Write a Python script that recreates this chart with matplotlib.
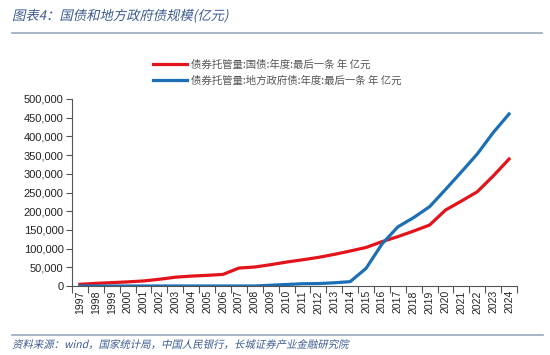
import matplotlib
matplotlib.use("Agg")
import matplotlib.pyplot as plt
from matplotlib.textpath import TextPath
from matplotlib.patches import PathPatch
from matplotlib.font_manager import FontProperties
from matplotlib.transforms import Affine2D
import numpy as np

plt.rcParams['font.family'] = ['Noto Sans CJK SC', 'DejaVu Sans']

## data (亿元)
years = [str(y) for y in range(1997, 2025)]
guozhai = [4500, 7000, 9000, 11000, 13500, 18000, 23500, 26500, 28500, 31000,
           48000, 50800, 57000, 64000, 70000, 76500, 84500, 93500, 103000, 118500,
           132000, 147000, 163000, 203000, 227000, 252000, 294000, 339500]
difang = [0, 0, 0, 0, 0, 0, 0, 0, 0, 0,
          0, 0, 2000, 4000, 6000, 6500, 8600, 11600, 47000, 112000,
          158000, 183000, 212000, 258000, 305000, 353000, 410000, 460000]
yticks = [0, 50000, 100000, 150000, 200000, 250000, 300000, 350000, 400000, 450000, 500000]
label_gz = '债券托管量:国债:年度:最后一条 年 亿元'
label_df = '债券托管量:地方政府债:年度:最后一条 年 亿元'
title = '图表4：国债和地方政府债规模(亿元)'
source = '资料来源：wind，国家统计局，中国人民银行，长城证券产业金融研究院'

W, H = 550, 355
fig = plt.figure(figsize=(W / 100, H / 100), dpi=100)
ax = fig.add_axes([72 / W, 1 - 286 / H, (517 - 72) / W, (286 - 99) / H])

x = np.arange(len(years))
l1, = ax.plot(x, guozhai, color='#e3131b', lw=2.3, label=label_gz)
l2, = ax.plot(x, difang, color='#1c6fb5', lw=2.3, label=label_df)

ax.set_xlim(-0.5, len(years) - 0.5)
ax.set_ylim(0, 500000)
ax.set_yticks(yticks)
ax.set_yticklabels(['{:,}'.format(v) for v in yticks], fontsize=8,
                   family=['Liberation Sans'], color='#222222')
ax.set_xticks(np.arange(len(years) + 1) - 0.5)
ax.set_xticklabels([])
ax.set_xticks(x, minor=True)
ax.set_xticklabels(years, minor=True, rotation=90, fontsize=7.5,
                   family=['Liberation Sans'], color='#222222')
ax.tick_params(axis='x', which='minor', length=0, pad=3)
ax.tick_params(axis='x', which='major', length=5, width=0.8, color='#555555', direction='out')
ax.tick_params(axis='y', length=4, width=0.8, color='#555555', direction='out', pad=2)
for s in ['top', 'right']:
    ax.spines[s].set_visible(False)
for s in ['left', 'bottom']:
    ax.spines[s].set_color('#555555')
    ax.spines[s].set_linewidth(0.8)

fig.legend(handles=[l1, l2], loc='upper left', bbox_to_anchor=(144 / W, 1 - 50 / H),
           frameon=False, fontsize=7.5, handlelength=3.2, handletextpad=0.4,
           labelspacing=0.55, labelcolor='#555555')


# the CJK font has no italic, so slant the glyph outlines by hand
def slanted_text(s, px, py, size, color):
    prop = FontProperties(family=['Noto Sans CJK SC', 'DejaVu Sans'])
    tp = TextPath((0, 0), s, size=size, prop=prop)
    tr = (Affine2D().skew_deg(13, 0).scale(1 / 72.0)
          .translate(px / 100.0, (H - py) / 100.0) + fig.dpi_scale_trans)
    fig.add_artist(PathPatch(tp, transform=tr, facecolor=color, edgecolor='none'))


slanted_text(title, 12, 20, 9.6, '#3b5b8f')
slanted_text(source, 12, 348, 7.5, '#3b5b8f')
fig.add_artist(plt.Line2D([12 / W, 542 / W], [1 - 33 / H, 1 - 33 / H], color='#9aa8bd', lw=1.2))
fig.add_artist(plt.Line2D([12 / W, 543 / W], [1 - 335 / H, 1 - 335 / H], color='#9aa8bd', lw=1.2))

fig.savefig('out.png', dpi=100)
